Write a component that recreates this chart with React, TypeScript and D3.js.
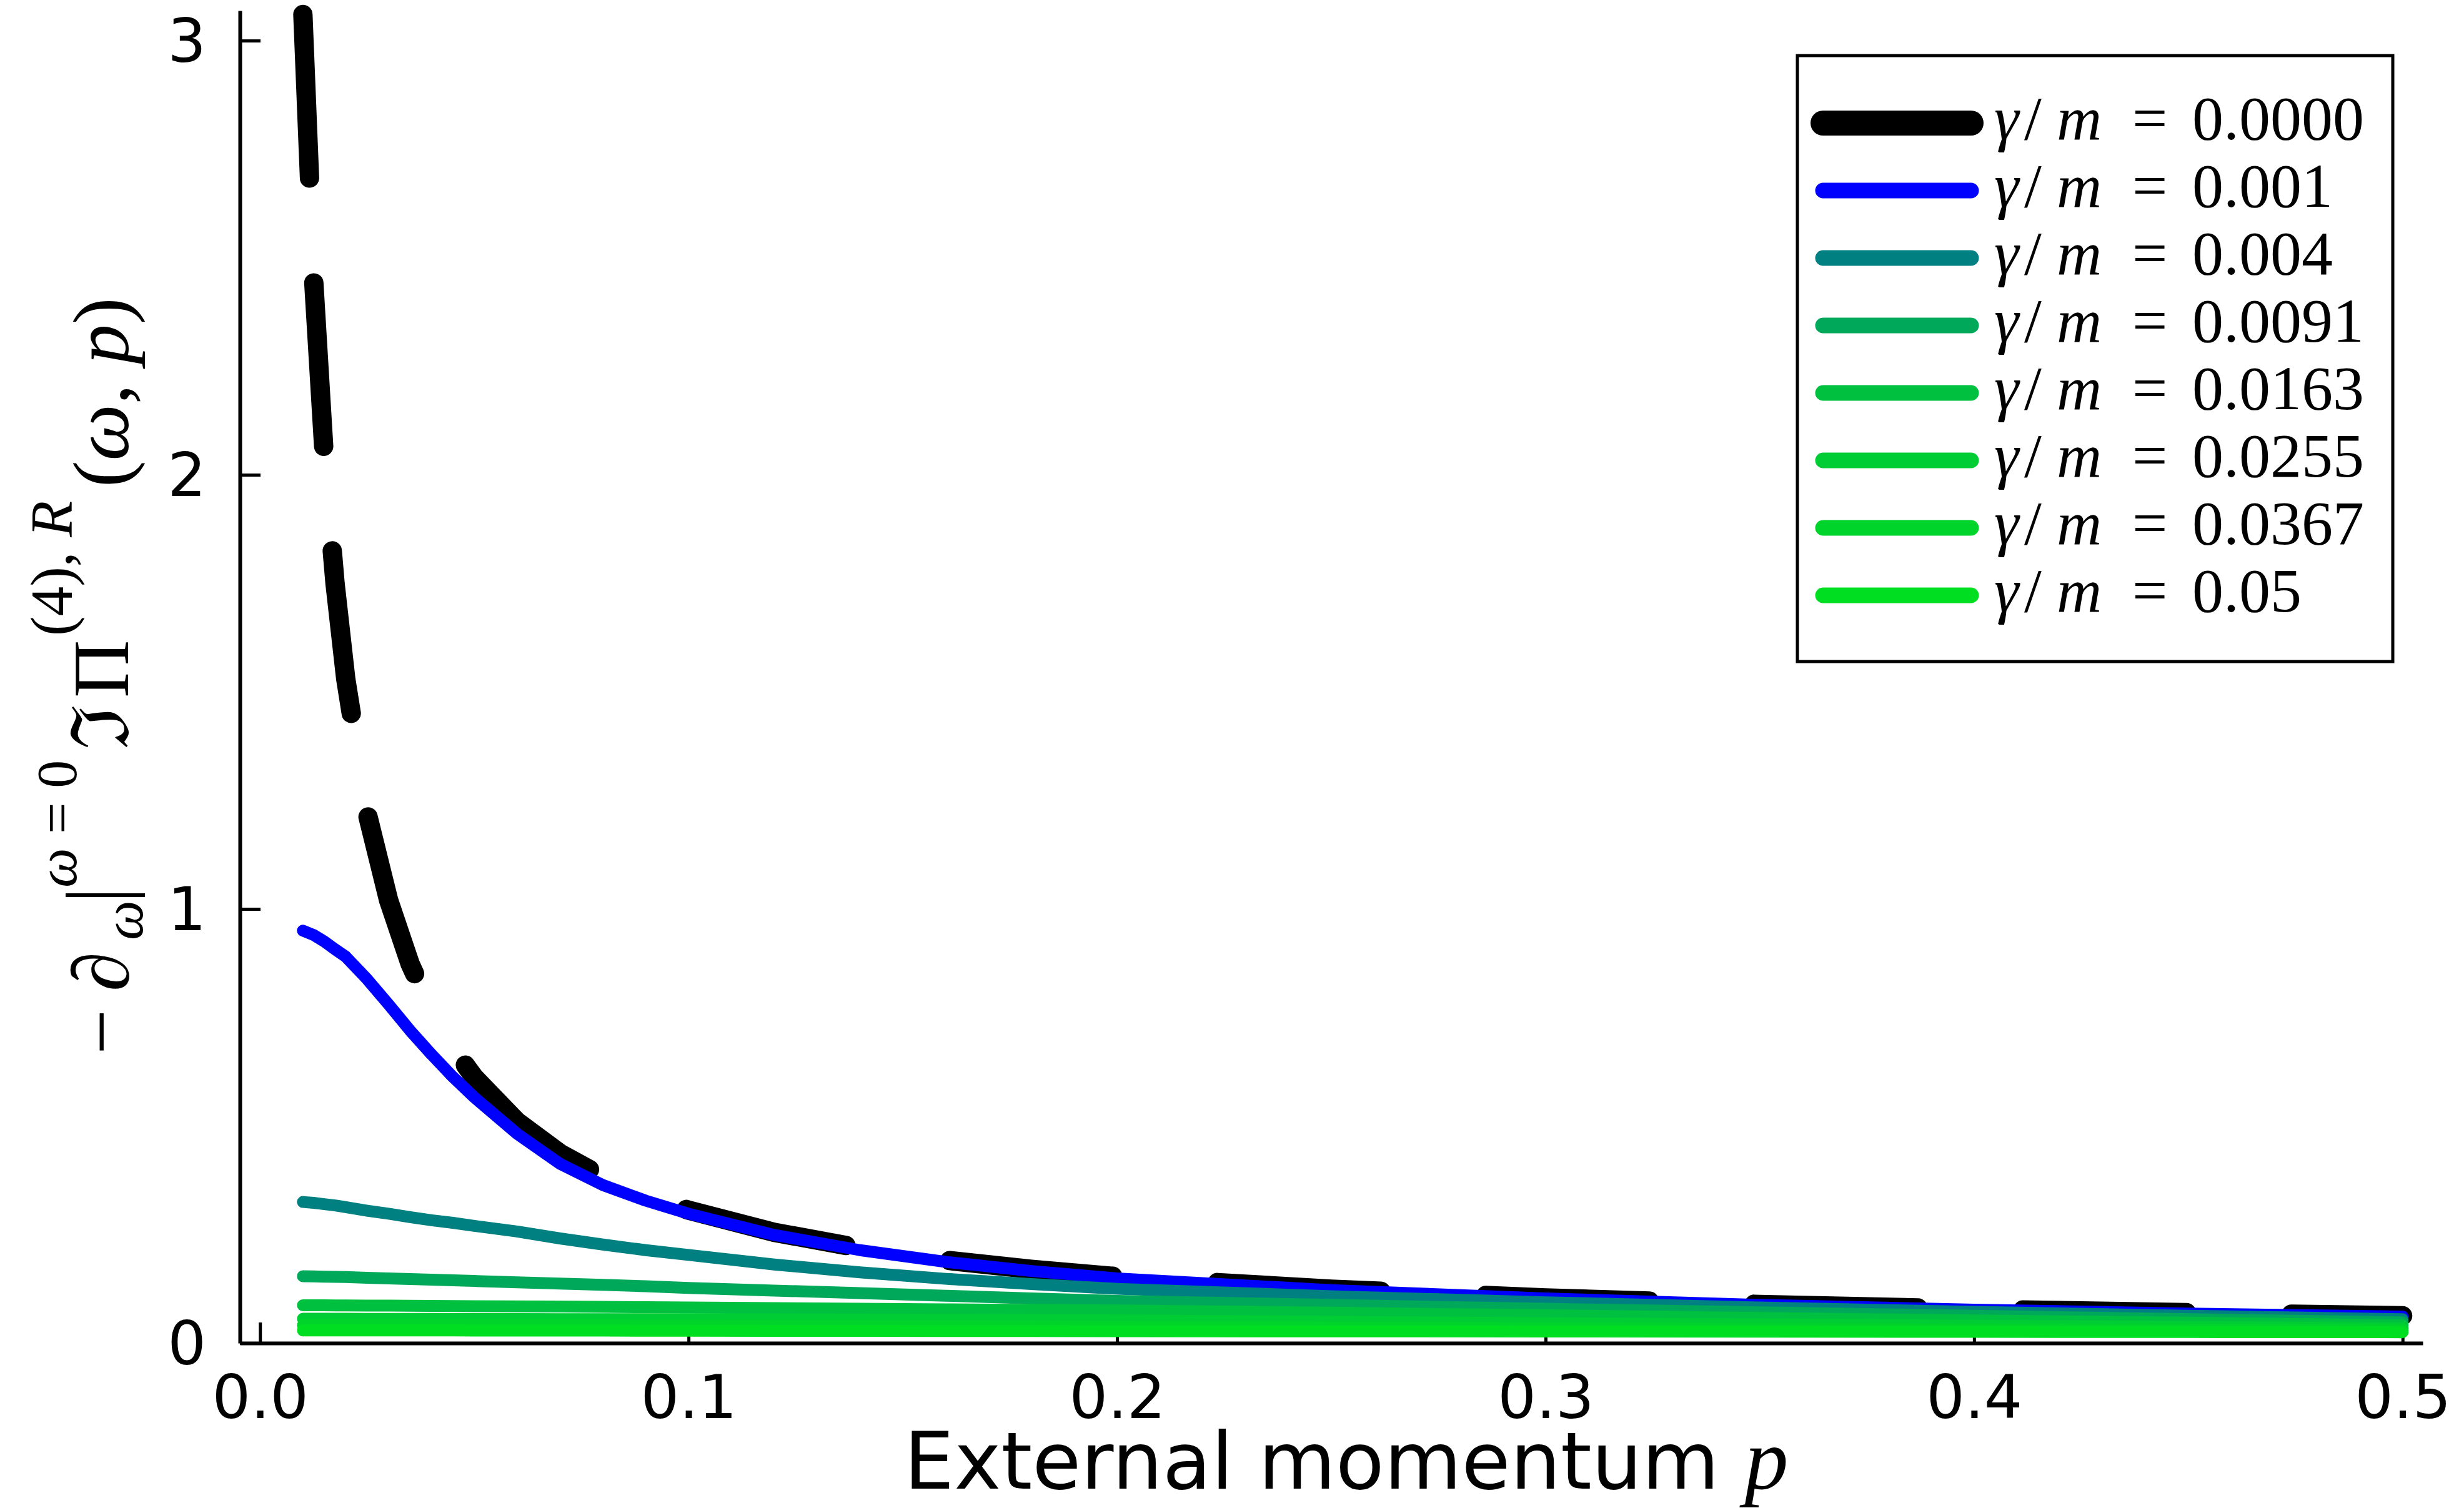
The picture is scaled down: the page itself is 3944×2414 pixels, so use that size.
import React, { useEffect, useRef } from 'react';
import * as d3 from 'd3';

const W = 3944;
const H = 2414;

// external momentum p (x axis)
const momentum = [0.01, 0.0125, 0.015, 0.0175, 0.02, 0.025, 0.03, 0.035, 0.04, 0.045, 0.05, 0.06, 0.07, 0.08, 0.09, 0.1, 0.12, 0.14, 0.16, 0.18, 0.2, 0.25, 0.3, 0.35, 0.4, 0.45, 0.5];

// one array per gamma/m value
const g0000 = [3.06, 2.45, 2.04, 1.75, 1.53, 1.22, 1.02, 0.874, 0.765, 0.68, 0.612, 0.51, 0.437, 0.383, 0.34, 0.306, 0.255, 0.219, 0.191, 0.17, 0.153, 0.124, 0.104, 0.089, 0.078, 0.07, 0.063];
const g0001 = [0.95, 0.94, 0.925, 0.907, 0.89, 0.838, 0.78, 0.72, 0.665, 0.613, 0.566, 0.482, 0.413, 0.364, 0.328, 0.298, 0.249, 0.214, 0.187, 0.166, 0.149, 0.122, 0.103, 0.088, 0.077, 0.068, 0.061];
const g0004 = [0.325, 0.323, 0.32, 0.317, 0.313, 0.305, 0.298, 0.29, 0.283, 0.277, 0.27, 0.257, 0.241, 0.227, 0.214, 0.203, 0.181, 0.163, 0.148, 0.136, 0.125, 0.108, 0.094, 0.082, 0.072, 0.063, 0.055];
const g0091 = [0.154, 0.1535, 0.153, 0.1525, 0.152, 0.1505, 0.149, 0.1475, 0.146, 0.1445, 0.143, 0.14, 0.137, 0.134, 0.131, 0.127, 0.121, 0.115, 0.109, 0.103, 0.097, 0.088, 0.079, 0.071, 0.063, 0.055, 0.048];
const g0163 = [0.087, 0.087, 0.087, 0.0868, 0.0867, 0.0865, 0.0862, 0.086, 0.0857, 0.0854, 0.085, 0.0845, 0.084, 0.0834, 0.0827, 0.082, 0.0806, 0.0792, 0.0778, 0.0764, 0.075, 0.07, 0.064, 0.058, 0.052, 0.047, 0.041];
const g0255 = [0.056, 0.056, 0.056, 0.056, 0.056, 0.0559, 0.0558, 0.0557, 0.0556, 0.0555, 0.0554, 0.0553, 0.0552, 0.0551, 0.055, 0.0549, 0.0545, 0.054, 0.0533, 0.0527, 0.052, 0.049, 0.046, 0.043, 0.04, 0.037, 0.034];
const g0367 = [0.041, 0.041, 0.041, 0.041, 0.041, 0.041, 0.041, 0.041, 0.0409, 0.0408, 0.0408, 0.0407, 0.0406, 0.0405, 0.0403, 0.0402, 0.0398, 0.0394, 0.039, 0.0385, 0.038, 0.036, 0.034, 0.032, 0.031, 0.03, 0.029];
const g0500 = [0.029, 0.029, 0.029, 0.029, 0.029, 0.029, 0.029, 0.029, 0.029, 0.029, 0.0289, 0.0288, 0.0287, 0.0286, 0.0285, 0.0284, 0.0282, 0.028, 0.0278, 0.0276, 0.0274, 0.027, 0.0266, 0.0262, 0.0258, 0.0254, 0.025];

const gammaLabels = ['0.0000', '0.001', '0.004', '0.0091', '0.0163', '0.0255', '0.0367', '0.05'];
const seriesColors = ['#000000', '#0000ff', '#008080', '#00a85a', '#00c040', '#00cc34', '#00d42b', '#00de22'];
const xTicks = [0, 0.1, 0.2, 0.3, 0.4, 0.5];
const yTicks = [0, 1, 2, 3];

const SERIF = '"Liberation Serif", "DejaVu Serif", serif';
const SANS = '"DejaVu Sans", sans-serif';

export default function App() {
  const ref = useRef<SVGSVGElement>(null);

  useEffect(() => {
    const svg = d3.select(ref.current);
    svg.selectAll('*').remove();

    const margin = { top: 17, right: 66, bottom: 264, left: 384 };
    const x = d3.scaleLinear().domain([-0.0047, 0.5047]).range([margin.left, W - margin.right]);
    const y = d3.scaleLinear().domain([0, 3.069]).range([H - margin.bottom, margin.top]);

    svg.append('rect').attr('width', W).attr('height', H).attr('fill', '#fff');

    // axes, ticks pointing inward
    const xAxis = svg.append('g')
      .attr('transform', `translate(0,${y(0)})`)
      .call(d3.axisBottom(x).tickValues(xTicks).tickFormat(d3.format('.1f')).tickSizeInner(-33).tickSizeOuter(0).tickPadding(51));
    const yAxis = svg.append('g')
      .attr('transform', `translate(${margin.left},0)`)
      .call(d3.axisLeft(y).tickValues(yTicks).tickFormat(d3.format('d')).tickSizeInner(-33).tickSizeOuter(0).tickPadding(54));
    [xAxis, yAxis].forEach(g => {
      g.attr('font-family', SANS).attr('font-size', 97);
      g.select('.domain').attr('stroke', '#000').attr('stroke-width', 6);
      g.selectAll('.tick line').attr('stroke', '#000').attr('stroke-width', 5);
      g.selectAll('.tick text').attr('fill', '#000');
    });
    yAxis.selectAll('.tick text').attr('dy', '0.35em');

    // curves
    const series = [g0000, g0001, g0004, g0091, g0163, g0255, g0367, g0500];
    const line = d3.line<number>()
      .x((_, i) => x(momentum[i]))
      .y(d => y(d));
    series.forEach((vals, k) => {
      svg.append('path')
        .datum(vals)
        .attr('fill', 'none')
        .attr('stroke', seriesColors[k])
        .attr('stroke-width', k === 0 ? 31 : 19)
        .attr('stroke-linejoin', 'round')
        .attr('stroke-linecap', 'round')
        .attr('stroke-dasharray', k === 0 ? '262 168' : null)
        .attr('d', line);
    });

    // legend
    const lg = svg.append('g');
    lg.append('rect')
      .attr('x', 2877).attr('y', 89).attr('width', 953).attr('height', 970)
      .attr('fill', '#fff').attr('stroke', '#000').attr('stroke-width', 5);
    gammaLabels.forEach((lab, i) => {
      const cy = 197 + 108 * i;
      lg.append('line')
        .attr('x1', 2918).attr('x2', 3155).attr('y1', cy).attr('y2', cy)
        .attr('stroke', seriesColors[i])
        .attr('stroke-width', i === 0 ? 40 : 25)
        .attr('stroke-linecap', 'round');
      const t = lg.append('text')
        .attr('y', cy + 26)
        .attr('font-family', SERIF)
        .attr('font-size', 100)
        .attr('fill', '#000');
      t.append('tspan').attr('x', 3192).attr('font-style', 'italic').text('γ');
      t.append('tspan').attr('x', 3240).text('/');
      t.append('tspan').attr('x', 3292).attr('font-style', 'italic').text('m');
      t.append('tspan').attr('x', 3413).text('=');
      t.append('tspan').attr('x', 3509).text(lab);
    });

    // x label
    const xl = svg.append('text')
      .attr('x', 1447).attr('y', 2383)
      .attr('font-family', SANS).attr('font-size', 127).attr('fill', '#000');
    xl.append('tspan').text('External momentum ');
    xl.append('tspan').attr('font-family', SERIF).attr('font-style', 'italic').attr('font-size', 140).text('p');

    // y label, rotated; u runs upward along the label, v is offset from the baseline
    const yl = svg.append('g').attr('transform', 'translate(205,1688) rotate(-90)')
      .attr('font-family', SERIF).attr('fill', '#000');
    const piece = (u: number, v: number, fs: number) =>
      yl.append('text').attr('x', u).attr('y', v).attr('font-size', fs);
    piece(0, 0, 128).text('−');
    piece(101, 0, 128).attr('font-style', 'italic').text('∂');
    piece(183, 23, 90).attr('font-style', 'italic').text('ω');
    yl.append('line').attr('x1', 255).attr('x2', 255).attr('y1', -100).attr('y2', 27)
      .attr('stroke', '#000').attr('stroke-width', 6);
    const sup = piece(267, -83, 90);
    sup.append('tspan').attr('font-style', 'italic').text('ω');
    sup.append('tspan').text(' = 0');
    piece(488, 0, 128).attr('font-family', '"DejaVu Serif", serif').text('ℑ');
    piece(571, 0, 128).text('Π');
    const sup2 = piece(670, -90, 95);
    sup2.append('tspan').text('(4), ');
    sup2.append('tspan').attr('font-style', 'italic').text('R');
    const args = piece(908, 0, 128);
    args.append('tspan').text('(');
    args.append('tspan').attr('font-style', 'italic').text('ω');
    args.append('tspan').text(', ');
    args.append('tspan').attr('font-style', 'italic').text('p');
    args.append('tspan').text(')');
  }, []);

  return (
    <svg ref={ref} width={W} height={H} style={{ position: 'absolute', left: 0, top: 0, display: 'block' }} />
  );
}
